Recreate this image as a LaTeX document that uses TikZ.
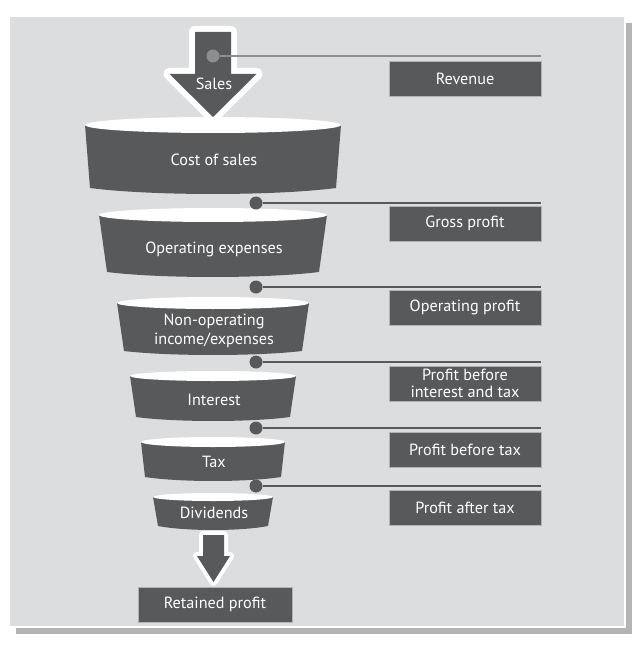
\documentclass[tikz,border=0pt]{standalone}
\usepackage{fontspec}
\setmainfont{PT Sans}
\usetikzlibrary{calc}

\definecolor{boxgray}{HTML}{58595B}
\definecolor{panelgray}{HTML}{DCDDDF}
\definecolor{shadowgray}{HTML}{B3B4B6}
\definecolor{lightline}{HTML}{8D8E90}

\tikzset{
  valbox/.style={fill=boxgray, draw=gray!60, line width=0.6pt, minimum width=152pt,
    minimum height=35pt, inner sep=0pt, text=white, align=center,
    font=\fontsize{16.2}{17.5}\selectfont},
  bowltext/.style={text=white, align=center, inner sep=0pt,
    font=\fontsize{16.2}{18.5}\selectfont},
  linkdot/.style={circle, fill=boxgray, minimum size=13pt, inner sep=0pt},
  link/.style={draw=boxgray, line width=2pt},
  flowarrow/.style={fill=boxgray, preaction={draw=white, line width=#1, line join=round}},
}

\begin{document}
\begin{tikzpicture}[x=1pt, y=-1pt]
    \useasboundingbox (0,0) rectangle (642,652);

    % Pannello con ombra
    \fill[shadowgray] (16,23) rectangle (632,634);
    \filldraw[fill=panelgray, draw=white, line width=1.2pt] (9,16) rectangle (625,627);

    % Ciotole dell'imbuto
    \foreach \nm/\wt/\wb/\yt/\ry/\yb/\sg/\ty/\lbl in {
        cos/128/123/125/8/188/6/160/{Cost of sales},
        opex/114/106/215/7/272/5/249/{Operating expenses},
        nonop/96/89/303/6/351/4/331/{Non-operating\\income/expenses},
        inter/83/77/376/5/417/4/400/{Interest},
        tax/72/68/442/5/477/4/462/{Tax},
        divid/60/55/497/4/526/4/513/{Dividends}} {
        \fill[boxgray] (213-\wt,\yt) -- (213-\wb,\yb)
            .. controls (213-\wb/2,\yb+\sg*1.33) and (213+\wb/2,\yb+\sg*1.33) .. (213+\wb,\yb)
            -- (213+\wt,\yt) -- cycle;
        \fill[white] (213,\yt) ellipse [x radius=\wt, y radius=\ry];
        \node[bowltext] (\nm) at (214,\ty) {\lbl};
    }

    % Freccia in entrata
    \path[flowarrow=12] (195,32) -- (231,32) -- (231,74) -- (256.5,74) -- (213,117)
        -- (169.5,74) -- (195,74) -- cycle;
    \node[bowltext] (sales) at (214,84) {Sales};

    % Freccia in uscita
    \path[flowarrow=8] (203,535) -- (224,535) -- (224,556) -- (230,556) -- (213.5,582)
        -- (197,556) -- (203,556) -- cycle;
    \node[valbox, minimum width=154pt] (ret) at (215,604.5) {Retained profit};

    % Riquadri dei risultati
    \node[valbox] (rev) at (465,78.5) {Revenue};
    \node[valbox] (gross) at (465,223.5) {Gross profit};
    \node[valbox] (opp) at (465,307.5) {Operating profit};
    \node[valbox] (pbit) at (465,383.5) {Profit before\\interest and tax};
    \node[valbox] (pbt) at (465,449.5) {Profit before tax};
    \node[valbox] (pat) at (465,507.5) {Profit after tax};

    % Punti e linee di collegamento
    \node[linkdot, fill=lightline] (revdot) at (213,56) {};
    \draw[link, draw=lightline, line width=2.5pt] (revdot.east) -- (revdot -| rev.east);
    \foreach \d/\b/\y in {grossdot/gross/203, oppdot/opp/287, pbitdot/pbit/362,
        pbtdot/pbt/428, patdot/pat/486} {
        \node[linkdot] (\d) at (256,\y) {};
        \draw[link] (\d.east) -- (\d -| \b.east);
    }

\end{tikzpicture}
\end{document}
